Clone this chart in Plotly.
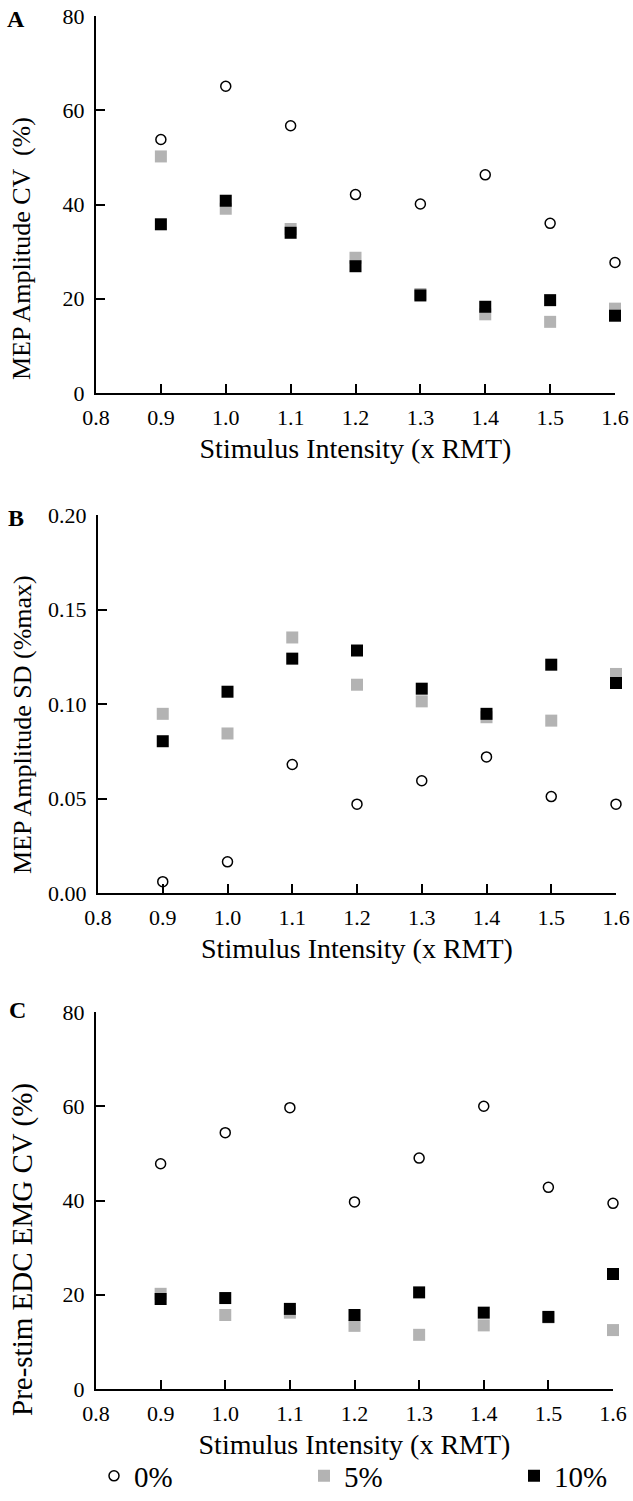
import plotly.graph_objects as go

# stimulus intensity (x RMT) and pre-activation levels
intensity = [0.9, 1.0, 1.1, 1.2, 1.3, 1.4, 1.5, 1.6]
levels = ["0%", "5%", "10%"]

# A: MEP amplitude CV (%)
mep_cv_0 = [53.8, 65.1, 56.7, 42.1, 40.1, 46.3, 36.0, 27.7]
mep_cv_5 = [50.2, 39.1, 34.8, 28.7, 21.0, 16.7, 15.1, 17.9]
mep_cv_10 = [35.8, 40.8, 34.0, 26.9, 20.7, 18.3, 19.7, 16.4]

# B: MEP amplitude SD (%max)
mep_sd_0 = [0.006, 0.0165, 0.068, 0.047, 0.0594, 0.072, 0.051, 0.047]
mep_sd_5 = [0.0948, 0.0844, 0.1352, 0.1102, 0.1014, 0.093, 0.0912, 0.1159]
mep_sd_10 = [0.0803, 0.1065, 0.124, 0.1283, 0.1081, 0.0948, 0.1208, 0.1111]

# C: pre-stim EDC EMG CV (%)
emg_cv_0 = [47.8, 54.4, 59.7, 39.7, 49.0, 60.0, 42.8, 39.4]
emg_cv_5 = [20.2, 15.7, 16.2, 13.4, 11.5, 13.5, 15.2, 12.5]
emg_cv_10 = [19.1, 19.3, 17.0, 15.7, 20.5, 16.2, 15.3, 24.4]

panels = [
    ("A", "MEP Amplitude CV  (%)", [mep_cv_0, mep_cv_5, mep_cv_10], [0, 80], [0, 20, 40, 60, 80], None),
    ("B", "MEP Amplitude SD (%max)", [mep_sd_0, mep_sd_5, mep_sd_10], [0, 0.2], [0, 0.05, 0.1, 0.15, 0.2], ".2f"),
    ("C", "Pre-stim EDC EMG CV (%)", [emg_cv_0, emg_cv_5, emg_cv_10], [0, 80], [0, 20, 40, 60, 80], None),
]

W, H = 633, 1501
# pixel boxes of each plot area: (left, right, top, bottom)
boxes = [(96, 615, 16, 393), (98, 616, 515, 893), (96, 613, 1012, 1389)]
ytitle_centers = [249, 725, 1250]
ytitle_sizes = [26, 26, 29]
letter_pos = [(16, 19), (16, 518), (17, 1010)]

FONT = "Liberation Serif, Times New Roman, serif"
GRAY = "#b3b3b3"

styles = [
    dict(symbol="circle-open", size=10, color="black", line=dict(width=1.5, color="black")),
    dict(symbol="square", size=12, color=GRAY),
    dict(symbol="square", size=12, color="black"),
]

fig = go.Figure()
annotations = []

for i, (letter, ytitle, series, yrange, yticks, fmt) in enumerate(panels):
    n = "" if i == 0 else str(i + 1)
    for j, (vals, name) in enumerate(zip(series, levels)):
        fig.add_trace(go.Scatter(
            x=intensity, y=vals, mode="markers", name=name,
            marker=styles[j], cliponaxis=False,
            showlegend=(i == 0), legendgroup=name,
            xaxis="x" + n, yaxis="y" + n,
        ))

    left, right, top, bottom = boxes[i]
    fig.layout["xaxis" + n] = dict(
        domain=[left / W, right / W], range=[0.8, 1.6],
        tickvals=[0.8, 0.9, 1.0, 1.1, 1.2, 1.3, 1.4, 1.5, 1.6], tickformat=".1f",
        ticks="inside", ticklen=9, tickwidth=2, tickcolor="black",
        showline=True, linewidth=2, linecolor="black",
        showgrid=False, zeroline=False, ticklabelstandoff=4,
        tickfont=dict(family=FONT, size=22, color="black"),
        title=dict(text="Stimulus Intensity (x RMT)", standoff=9,
                   font=dict(family=FONT, size=28, color="black")),
        anchor="y" + n,
    )
    fig.layout["yaxis" + n] = dict(
        domain=[(H - bottom) / H, (H - top) / H], range=yrange,
        tickvals=yticks, tickformat=fmt,
        ticks="inside", ticklen=9, tickwidth=2, tickcolor="black",
        showline=True, linewidth=2, linecolor="black",
        showgrid=False, zeroline=False, ticklabelstandoff=5,
        tickfont=dict(family=FONT, size=22, color="black"),
        anchor="x" + n,
    )
    annotations.append(dict(
        text=ytitle, textangle=-90, xref="paper", yref="paper",
        x=22 / W, y=(H - ytitle_centers[i]) / H, showarrow=False,
        xanchor="center", yanchor="middle",
        font=dict(family=FONT, size=ytitle_sizes[i], color="black"),
    ))
    annotations.append(dict(
        text="<b>" + letter + "</b>", xref="paper", yref="paper",
        x=letter_pos[i][0] / W, y=(H - letter_pos[i][1]) / H, showarrow=False,
        xanchor="center", yanchor="middle",
        font=dict(family=FONT, size=24, color="black"),
    ))

fig.update_layout(
    width=W, height=H,
    margin=dict(l=0, r=0, t=0, b=0, autoexpand=False),
    paper_bgcolor="white", plot_bgcolor="white",
    annotations=annotations,
    showlegend=True,
    legend=dict(
        orientation="h", x=94 / W, y=(H - 1476) / H,
        xanchor="left", yanchor="middle",
        entrywidth=165, entrywidthmode="pixels",
        font=dict(family=FONT, size=29, color="black"),
        bgcolor="rgba(0,0,0,0)",
    ),
)

# the page body has a default 8px margin; drop it so the figure sits at (0, 0)
fig.write_html(
    "out.html",
    config={"displayModeBar": False},
    post_script="document.body.style.margin='0px';",
)
